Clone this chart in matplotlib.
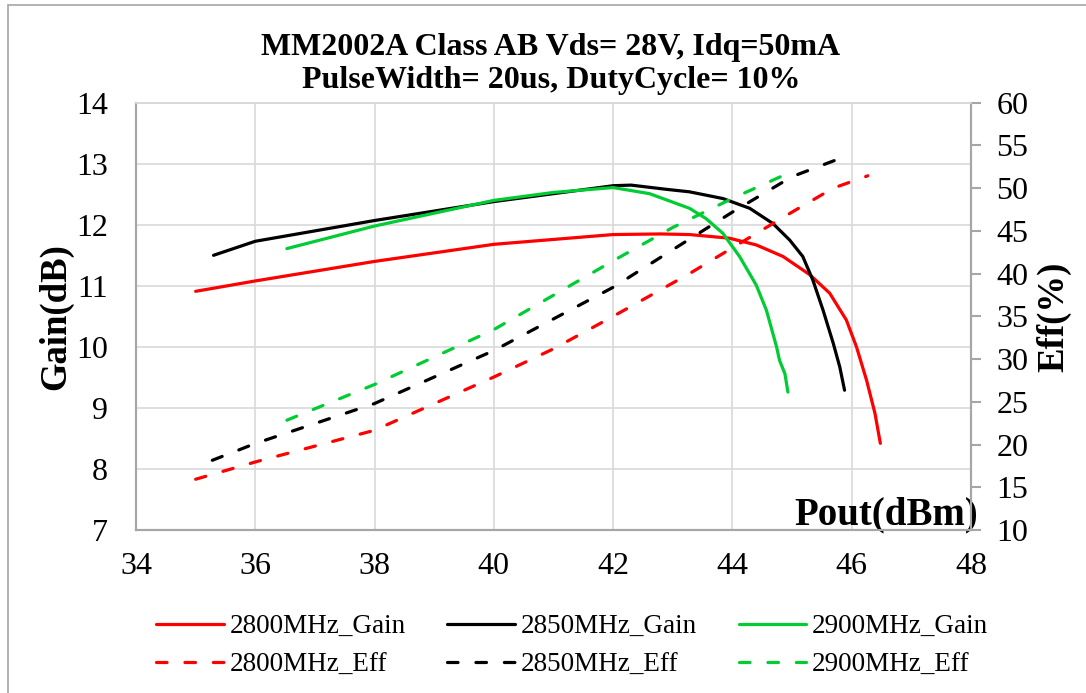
import matplotlib
matplotlib.use("Agg")
import matplotlib.pyplot as plt
from matplotlib.patches import Rectangle

plt.rcParams['font.family'] = ['Liberation Serif', 'DejaVu Serif']

# Pout (dBm) / gain (dB)
x_g2800 = [35.0, 36.0, 38.0, 40.0, 42.0, 42.8, 43.28, 43.95, 44.40, 44.85, 45.30, 45.63, 45.91, 46.08, 46.25, 46.39, 46.48]
g2800 = [10.91, 11.08, 11.40, 11.68, 11.84, 11.85, 11.84, 11.78, 11.67, 11.48, 11.18, 10.88, 10.44, 10.0, 9.45, 8.91, 8.42]

x_g2850 = [35.3, 36.0, 38.0, 40.0, 41.0, 42.0, 42.3, 42.9, 43.28, 43.84, 44.29, 44.68, 44.96, 45.18, 45.35, 45.52, 45.69, 45.80, 45.88]
g2850 = [11.50, 11.73, 12.07, 12.38, 12.51, 12.64, 12.65, 12.58, 12.54, 12.43, 12.27, 12.02, 11.75, 11.48, 11.09, 10.60, 10.06, 9.67, 9.29]

x_g2900 = [36.53, 38.0, 40.0, 41.0, 42.0, 42.61, 43.28, 43.56, 43.84, 44.12, 44.40, 44.57, 44.74, 44.79, 44.88, 44.93]
g2900 = [11.61, 11.98, 12.40, 12.53, 12.61, 12.51, 12.27, 12.10, 11.86, 11.48, 11.01, 10.60, 10.0, 9.78, 9.56, 9.26]

# drain efficiency (%)
x_e2800 = [35.0, 36.0, 38.0, 40.0, 41.0, 42.0, 43.28, 44.40, 45.0, 45.69, 46.27]
e2800 = [15.94, 17.96, 21.67, 27.9, 31.2, 35.0, 40.0, 44.7, 47.2, 50.0, 51.45]

x_e2850 = [35.28, 36.0, 38.0, 40.0, 42.0, 43.0, 44.0, 45.0, 45.88]
e2850 = [18.16, 20.12, 24.8, 31.0, 38.4, 42.8, 47.2, 51.35, 53.68]

x_e2900 = [36.53, 38.0, 40.0, 42.0, 43.0, 44.0, 44.93]
e2900 = [22.85, 27.03, 33.45, 41.5, 45.4, 48.8, 51.73]

RED = '#ff0000'
BLACK = '#000000'
GREEN = '#00cc33'
GRID = '#d9d9d9'
SPINE = '#a6a6a6'

fig = plt.figure(figsize=(10.86, 6.93), dpi=100)
ax = fig.add_axes([136 / 1086, 1 - 530 / 693, 835 / 1086, 427.3 / 693])
ax2 = ax.twinx()

lw = 2.3
dash = (3.3, 5.6)
l1, = ax.plot(x_g2800, g2800, color=RED, lw=lw, solid_capstyle='round', label='2800MHz_Gain')
l3, = ax.plot(x_g2850, g2850, color=BLACK, lw=lw, solid_capstyle='round', label='2850MHz_Gain')
l5, = ax.plot(x_g2900, g2900, color=GREEN, lw=lw, solid_capstyle='round', label='2900MHz_Gain')
l2, = ax2.plot(x_e2800, e2800, color=RED, lw=lw, dashes=dash, dash_capstyle='round', label='2800MHz_Eff')
l4, = ax2.plot(x_e2850, e2850, color=BLACK, lw=lw, dashes=dash, dash_capstyle='round', label='2850MHz_Eff')
l6, = ax2.plot(x_e2900, e2900, color=GREEN, lw=lw, dashes=dash, dash_capstyle='round', label='2900MHz_Eff')

ax.set_xlim(34, 48)
ax.set_ylim(7, 14)
ax2.set_ylim(10, 60)
ax.set_xticks(range(34, 49, 2))
ax.set_yticks(range(7, 15))
ax2.set_yticks(range(10, 61, 5))

ax.grid(True, color=GRID, lw=1.2)
ax.set_axisbelow(True)

for a in (ax, ax2):
    for s in a.spines.values():
        s.set_color(SPINE)
        s.set_linewidth(1.5)
    a.spines['top'].set_color(GRID)
    a.spines['top'].set_linewidth(1.2)

ax.tick_params(axis='x', length=0, pad=16, labelsize=23)
ax.tick_params(axis='y', length=0, pad=20, labelsize=23)
ax2.tick_params(axis='y', direction='out', length=7.2, width=1.5, color=SPINE, pad=11, labelsize=23)

ax.set_ylabel('Gain(dB)', fontsize=26.5, fontweight='bold', labelpad=2)
ax2.set_ylabel('Eff(%)', fontsize=26.5, fontweight='bold', labelpad=6)
ax.text(1.008, 0.012, 'Pout(dBm)', transform=ax.transAxes, ha='right', va='baseline',
        fontsize=28, fontweight='bold')

fig.text(551 / 1086, 1 - 64 / 693,
         'MM2002A Class AB Vds= 28V, Idq=50mA\nPulseWidth= 20us, DutyCycle= 10%',
         ha='center', va='center', fontsize=23, fontweight='bold', linespacing=1.15)

fig.legend(handles=[l1, l2, l3, l4, l5, l6], ncol=3, loc='center',
           bbox_to_anchor=(572 / 1086, 1 - 646 / 693), frameon=False,
           fontsize=19.5, handlelength=2.5, handletextpad=0.2, columnspacing=1.55,
           labelspacing=0.5)

fig.add_artist(Rectangle((8 / 1086, -0.1), 1.2, 1.1 - 5 / 693, transform=fig.transFigure,
                         fill=False, edgecolor=SPINE, lw=1.2))

fig.savefig('out.png', dpi=100)
